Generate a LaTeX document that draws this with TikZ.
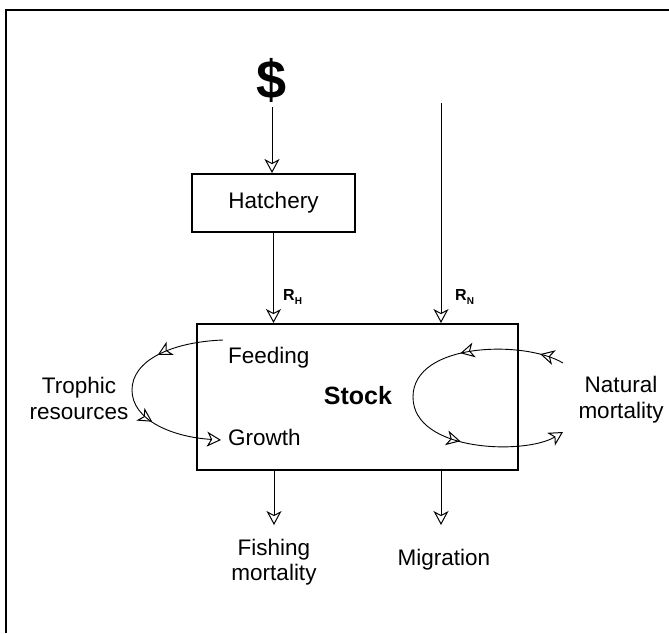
\documentclass[tikz,border=0pt]{standalone}
\usepackage{fontspec}
\setmainfont{Liberation Sans}
\usetikzlibrary{arrows.meta,decorations.markings}
\tikzset{
  headv/.tip={Stealth[open,length=14pt,width=15pt,inset=4pt,line width=1pt]},
  conn/.style={line width=0.9pt,-{headv}},
  loopline/.style={line width=0.9pt},
  box/.style={draw,line width=2pt,inner sep=0pt},
  lbl/.style={inner sep=0pt,font=\fontsize{22.5}{26}\selectfont},
  rlbl/.style={inner sep=0pt,font=\fontsize{16}{16}\selectfont\bfseries},
}
\begin{document}
\begin{tikzpicture}[x=1pt,y=-1pt]
\useasboundingbox (0,0) rectangle (669,633);
% frame
\draw[line width=1.4pt] (6,633) -- (6,10) -- (669,10);

% nodes
\node[inner sep=0pt,font=\fontsize{54}{54}\selectfont\bfseries] (dollar) at (272,80) {\$};
\node[box,minimum width=163pt,minimum height=58pt,font=\fontsize{22.5}{26}\selectfont] (hatch) at (273.5,203) {Hatchery};
\node[box,minimum width=321pt,minimum height=146pt] (stock) at (357.5,397) {};
\node[inner sep=0pt,anchor=base,font=\fontsize{25}{25}\selectfont\bfseries] (stocklbl) at (358,404) {Stock};
\node[lbl,anchor=base west] (feed) at (228,363) {Feeding};
\node[lbl,anchor=base west] (grow) at (228,445) {Growth};
\node[lbl,anchor=base,align=center] (troph) at (79,419) {Trophic\\resources};
\node[lbl,anchor=base,align=center] (natmort) at (621,418) {Natural\\mortality};
\node[lbl,anchor=base,align=center,font=\fontsize{22.5}{25}\selectfont] (fishmort) at (274,580) {Fishing\\mortality};
\node[lbl,anchor=base] (migr) at (444,565) {Migration};
\node[rlbl,anchor=base west] (rh) at (283,300) {R\raisebox{-4pt}{\fontsize{10}{10}\selectfont H}};
\node[rlbl,anchor=base west] (rn) at (455,300) {R\raisebox{-4pt}{\fontsize{10}{10}\selectfont N}};

% coordinates
\coordinate (rntop) at (441,103);
\coordinate (fishtip) at (274,525);
\coordinate (migtip) at (441,525);
\coordinate (lstart) at (223,340);
\coordinate (lleft) at (132,390);
\coordinate (lend) at (221,440);
\coordinate (rstart) at (563,363);
\coordinate (rleft) at (413,397);
\coordinate (rend) at (563,432);

% vertical connectors
\draw[conn,shorten <=5pt] (dollar.south) -- (dollar.south |- hatch.north);
\draw[conn] (hatch.south) -- (hatch.south |- stock.north);
\draw[conn] (rntop) -- (rntop |- stock.north);
\draw[conn] (stock.south -| fishtip) -- (fishtip);
\draw[conn] (stock.south -| migtip) -- (migtip);

% left loop
\draw[loopline,-{headv},postaction={decorate},
  decoration={markings,
    mark=at position 0.3 with {\arrow{headv}},
    mark=at position 0.68 with {\arrow{headv}}}]
  (lstart) .. controls (172,342) and (132,360) .. (lleft)
           .. controls (132,420) and (172,437) .. (lend);

% right loop
\draw[loopline,-{headv},postaction={decorate},
  decoration={markings,
    mark=at position 0.07 with {\arrow{headv}},
    mark=at position 0.3 with {\arrow{headv}},
    mark=at position 0.7 with {\arrow{headv}}}]
  (rstart) .. controls (525,340) and (413,342) .. (rleft)
           .. controls (413,452) and (525,455) .. (rend);
\end{tikzpicture}
\end{document}
